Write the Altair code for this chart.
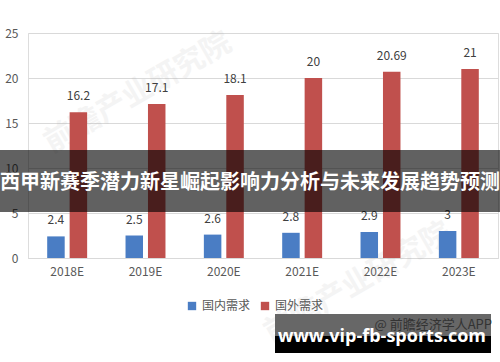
import altair as alt
import pandas as pd

years = ["2018E", "2019E", "2020E", "2021E", "2022E", "2023E"]
domestic = [2.4, 2.5, 2.6, 2.8, 2.9, 3]
foreign = [16.2, 17.1, 18.1, 20, 20.69, 21]
series = ["国内需求", "国外需求"]
colors = ["#4a7dc4", "#c0504d"]
y_ticks = [0, 5, 10, 15, 20, 25]
title_text = "西甲新赛季潜力新星崛起影响力分析与未来发展趋势预测"
site_text = "www.vip-fb-sports.com"
credit_text = "@ 前瞻经济学人APP"
watermark_text = "前瞻产业研究院"

FONT = "Noto Sans CJK SC"

rows = []
for i, yr in enumerate(years):
    for s, vals in zip(series, [domestic, foreign]):
        rows.append({"year": yr, "series": s, "value": vals[i], "label": f"{vals[i]:g}"})
df = pd.DataFrame(rows)

x_enc = alt.X("year:N", sort=years,
              scale=alt.Scale(paddingInner=0.49, paddingOuter=0.245),
              axis=alt.Axis(title=None, labelAngle=0, ticks=False, domainColor="#d9d9d9",
                            labelPadding=8, labelColor="#595959", labelFontSize=12, grid=False))
xo_enc = alt.XOffset("series:N", sort=series,
                     scale=alt.Scale(domain=series, paddingInner=0.22, paddingOuter=0))
y_enc = alt.Y("value:Q", scale=alt.Scale(domain=[0, 25], nice=False),
              axis=alt.Axis(title=None, values=y_ticks, domain=False, ticks=False, labelPadding=10,
                            gridColor="#d9d9d9", labelColor="#595959", labelFontSize=12))

base = alt.Chart(df)

bars = base.mark_bar().encode(
    x=x_enc, xOffset=xo_enc, y=y_enc,
    color=alt.Color("series:N", sort=series,
                    scale=alt.Scale(domain=series, range=colors),
                    legend=alt.Legend(orient="none", legendX=158, legendY=267, direction="horizontal",
                                      title=None, symbolType="square", symbolSize=70,
                                      symbolStrokeWidth=0, labelFontSize=12, labelColor="#595959",
                                      columnPadding=8, labelFont=FONT)),
)

labels = base.mark_text(baseline="bottom", dy=-9, fontSize=12, color="#404040").encode(
    x=x_enc, xOffset=xo_enc, y=y_enc, text="label:N"
)

wm1 = alt.Chart(pd.DataFrame({"t": [watermark_text]})).mark_text(
    angle=330, fontSize=30, fontWeight="bold", color="#a0a0a0", opacity=0.11
).encode(x=alt.value(110), y=alt.value(60), text="t:N")
wm2 = alt.Chart(pd.DataFrame({"t": [watermark_text]})).mark_text(
    angle=330, fontSize=30, fontWeight="bold", color="#a0a0a0", opacity=0.11
).encode(x=alt.value(330), y=alt.value(250), text="t:N")

band = alt.Chart(pd.DataFrame({"t": [title_text]})).mark_rect(color="black", opacity=0.62).encode(
    x=alt.value(-28), x2=alt.value(472), y=alt.value(117), y2=alt.value(179)
)
band_text = alt.Chart(pd.DataFrame({"t": [title_text]})).mark_text(
    color="white", fontSize=20, fontWeight="bold", baseline="middle", align="center", font=FONT
).encode(x=alt.value(222), y=alt.value(150), text="t:N")

box_gray = alt.Chart(pd.DataFrame({"t": [credit_text]})).mark_rect(color="#676767").encode(
    x=alt.value(247), x2=alt.value(463), y=alt.value(281), y2=alt.value(303)
)
box_black = alt.Chart(pd.DataFrame({"t": [site_text]})).mark_rect(color="black").encode(
    x=alt.value(247), x2=alt.value(463), y=alt.value(303), y2=alt.value(320)
)
credit = alt.Chart(pd.DataFrame({"t": [credit_text]})).mark_text(
    color="#333333", fontSize=13, align="right", baseline="middle", font=FONT
).encode(x=alt.value(464), y=alt.value(292), text="t:N")
site = alt.Chart(pd.DataFrame({"t": [site_text]})).mark_text(
    color="white", fontSize=18, fontWeight="bold", align="center", baseline="alphabetic", font="Open Sans"
).encode(x=alt.value(354), y=alt.value(309), text="t:N")

chart = alt.layer(
    wm1, wm2, bars, labels, band, band_text, box_gray, box_black, credit, site
).properties(
    width=470, height=225,
    autosize=alt.AutoSizeParams(type="none"),
    padding={"left": 28, "top": 33, "right": 2, "bottom": 104},
    background="white",
).configure_view(stroke=None).configure(font=FONT)

chart.save("out.html", embed_options={"renderer": "svg", "actions": False})
